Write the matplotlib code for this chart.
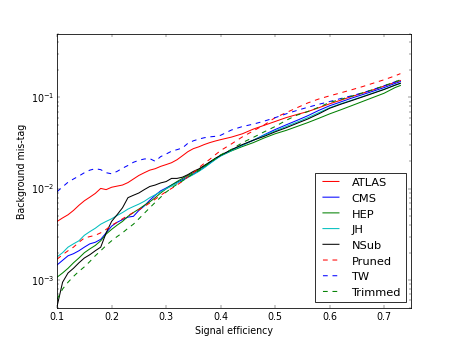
import matplotlib
matplotlib.use("Agg")
import matplotlib.pyplot as plt
import numpy as np

plt.style.use('classic')

eff = [0.10, 0.11, 0.12, 0.13, 0.14, 0.15, 0.16, 0.17, 0.18, 0.19,
       0.20, 0.21, 0.22, 0.23, 0.24, 0.25, 0.26, 0.27, 0.28, 0.29,
       0.30, 0.31, 0.32, 0.33, 0.34, 0.35, 0.36, 0.37, 0.38, 0.39,
       0.40, 0.42, 0.44, 0.46, 0.48, 0.50, 0.52, 0.54, 0.56, 0.58,
       0.60, 0.62, 0.64, 0.66, 0.68, 0.70, 0.72, 0.73]

atlas = [0.0044, 0.0048, 0.0052, 0.0058, 0.0066, 0.0074, 0.0081, 0.0089, 0.0101, 0.0098,
         0.0104, 0.0107, 0.0110, 0.0117, 0.0128, 0.0140, 0.0150, 0.0160, 0.0166, 0.0176,
         0.0184, 0.0193, 0.0208, 0.0230, 0.0255, 0.0275, 0.0288, 0.0305, 0.0320, 0.0333,
         0.0345, 0.0368, 0.0400, 0.0450, 0.0495, 0.0545, 0.0600, 0.0650, 0.0700, 0.0770,
         0.0850, 0.0930, 0.1020, 0.1110, 0.1210, 0.1330, 0.1460, 0.1530]

cms = [0.00147, 0.00165, 0.00185, 0.00195, 0.0021, 0.0023, 0.0025, 0.0026, 0.0028, 0.0033,
       0.0039, 0.0043, 0.0046, 0.0049, 0.0050, 0.0058, 0.0065, 0.0075, 0.0085, 0.0095,
       0.0102, 0.0110, 0.0118, 0.0126, 0.0135, 0.0145, 0.0157, 0.0172, 0.0190, 0.0210,
       0.0230, 0.0265, 0.0300, 0.0340, 0.0390, 0.0445, 0.0500, 0.0560, 0.0630, 0.0720,
       0.0810, 0.0890, 0.0980, 0.1070, 0.1170, 0.1280, 0.1420, 0.1490]

hep = [0.00108, 0.00120, 0.00135, 0.00155, 0.00175, 0.0020, 0.0022, 0.0024, 0.0027, 0.0032,
       0.0036, 0.0040, 0.0044, 0.0050, 0.0055, 0.0060, 0.0066, 0.0072, 0.0080, 0.0090,
       0.0100, 0.0110, 0.0120, 0.0130, 0.0140, 0.0150, 0.0162, 0.0177, 0.0195, 0.0213,
       0.0230, 0.0260, 0.0290, 0.0320, 0.0360, 0.0400, 0.0435, 0.0480, 0.0530, 0.0590,
       0.0660, 0.0730, 0.0810, 0.0900, 0.1000, 0.1110, 0.1280, 0.1350]

jh = [0.0018, 0.0020, 0.0023, 0.0025, 0.0027, 0.0031, 0.0034, 0.0037, 0.0041, 0.0044,
      0.0047, 0.0051, 0.0055, 0.0060, 0.0064, 0.0068, 0.0073, 0.0080, 0.0086, 0.0093,
      0.0100, 0.0107, 0.0115, 0.0123, 0.0133, 0.0143, 0.0155, 0.0170, 0.0188, 0.0208,
      0.0228, 0.0262, 0.0300, 0.0340, 0.0385, 0.0430, 0.0480, 0.0535, 0.0600, 0.0680,
      0.0770, 0.0850, 0.0930, 0.1020, 0.1120, 0.1230, 0.1360, 0.1420]

nsub = [0.00052, 0.00095, 0.00120, 0.00135, 0.00155, 0.00175, 0.00190, 0.0021, 0.0023, 0.0033,
        0.0044, 0.0052, 0.0062, 0.0080, 0.0085, 0.0090, 0.0098, 0.0106, 0.0110, 0.0116,
        0.0120, 0.0130, 0.0130, 0.0134, 0.0143, 0.0155, 0.0165, 0.0180, 0.0196, 0.0215,
        0.0233, 0.0268, 0.0305, 0.0340, 0.0375, 0.0420, 0.0465, 0.0520, 0.0580, 0.0660,
        0.0760, 0.0840, 0.0920, 0.1010, 0.1110, 0.1220, 0.1360, 0.1430]

pruned = [0.0017, 0.0019, 0.0021, 0.0023, 0.0026, 0.0029, 0.0030, 0.0031, 0.0033, 0.0036,
          0.0040, 0.0043, 0.0047, 0.0051, 0.0055, 0.0059, 0.0064, 0.0070, 0.0077, 0.0085,
          0.0093, 0.0101, 0.0110, 0.0121, 0.0135, 0.0150, 0.0170, 0.0190, 0.0210, 0.0235,
          0.0262, 0.0310, 0.0370, 0.0430, 0.0500, 0.0600, 0.0680, 0.0770, 0.0870, 0.0960,
          0.1040, 0.1120, 0.1210, 0.1310, 0.1430, 0.1560, 0.1720, 0.1820]

tw = [0.0093, 0.0105, 0.0118, 0.0128, 0.0138, 0.0150, 0.0160, 0.0166, 0.0162, 0.0150,
      0.0146, 0.0155, 0.0168, 0.0180, 0.0195, 0.0205, 0.0212, 0.0214, 0.0200, 0.0225,
      0.0240, 0.0258, 0.0268, 0.0280, 0.0315, 0.0335, 0.0350, 0.0362, 0.0370, 0.0375,
      0.0385, 0.0440, 0.0480, 0.0510, 0.0550, 0.0600, 0.0660, 0.0720, 0.0780, 0.0840,
      0.0900, 0.0970, 0.1040, 0.1120, 0.1220, 0.1340, 0.1480, 0.1560]

trimmed = [0.00062, 0.00080, 0.00095, 0.00110, 0.00125, 0.00140, 0.00160, 0.00185, 0.0021, 0.0024,
           0.0027, 0.0030, 0.0033, 0.0037, 0.0041, 0.0047, 0.0054, 0.0062, 0.0071, 0.0081,
           0.0092, 0.0102, 0.0112, 0.0122, 0.0134, 0.0147, 0.0158, 0.0175, 0.0193, 0.0212,
           0.0235, 0.0270, 0.0320, 0.0365, 0.0420, 0.0480, 0.0560, 0.0640, 0.0700, 0.0780,
           0.0880, 0.0950, 0.1030, 0.1120, 0.1220, 0.1340, 0.1480, 0.1560]

labels = ['ATLAS', 'CMS', 'HEP', 'JH', 'NSub', 'Pruned', 'TW', 'Trimmed']
series = [atlas, cms, hep, jh, nsub, pruned, tw, trimmed]
colors = ['r', 'b', 'g', 'c', 'k', 'r', 'b', 'g']
styles = ['-', '-', '-', '-', '-', '--', '--', '--']

fig = plt.figure(figsize=(8, 6), dpi=457 / 8)
ax = fig.add_subplot(111)
for lab, ys, c, ls in zip(labels, series, colors, styles):
    ax.plot(eff, ys, color=c, linestyle=ls, linewidth=1.3, label=lab)

ax.set_yscale('log')
ax.set_xlim(0.1, 0.75)
ax.set_ylim(5e-4, 0.5)
ax.set_xticks([0.1, 0.2, 0.3, 0.4, 0.5, 0.6, 0.7])
ax.set_xlabel('Signal efficiency')
ax.set_ylabel('Background mis-tag')
leg = ax.legend(loc='lower right')
for h in leg.legend_handles:
    h.set_snap(False)

fig.savefig('out.png', dpi=457 / 8)
